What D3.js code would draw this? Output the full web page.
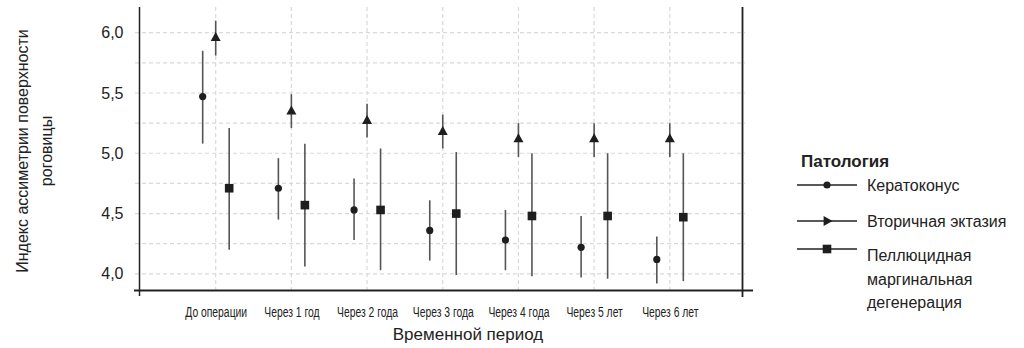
<!DOCTYPE html>
<html>
<head>
<meta charset="utf-8">
<script src="https://cdn.jsdelivr.net/npm/d3@7"></script>
<style>
  html, body { margin: 0; padding: 0; background: #fff; }
  svg { display: block; font-family: "Liberation Sans", Arial, sans-serif; }
</style>
</head>
<body>
<svg id="chart" width="1024" height="348"></svg>
<script>
// Time periods (x categories)
const periods = ["До операции", "Через 1 год", "Через 2 года", "Через 3 года", "Через 4 года", "Через 5 лет", "Через 6 лет"];

// Keratoconus: mean, lower, upper
const keratoMean  = [5.47, 4.71, 4.53, 4.36, 4.28, 4.22, 4.12];
const keratoLow   = [5.08, 4.45, 4.28, 4.11, 4.03, 3.97, 3.92];
const keratoHigh  = [5.85, 4.96, 4.79, 4.61, 4.53, 4.48, 4.31];

// Secondary ectasia
const ectasiaMean = [5.96, 5.35, 5.27, 5.18, 5.12, 5.12, 5.12];
const ectasiaLow  = [5.81, 5.21, 5.13, 5.04, 4.97, 4.97, 4.97];
const ectasiaHigh = [6.10, 5.49, 5.41, 5.32, 5.25, 5.25, 5.25];

// Pellucid marginal degeneration
const pmdMean     = [4.71, 4.57, 4.53, 4.50, 4.48, 4.48, 4.47];
const pmdLow      = [4.20, 4.06, 4.03, 3.99, 3.98, 3.96, 3.94];
const pmdHigh     = [5.21, 5.08, 5.04, 5.01, 5.00, 5.00, 5.00];

const yTickValues = [4.0, 4.5, 5.0, 5.5, 6.0];
const yGridValues = [4.0, 4.25, 4.5, 4.75, 5.0, 5.25, 5.5, 5.75, 6.0];

const series = [
  { name: "Кератоконус", shape: "circle", offset: -13, mean: keratoMean, low: keratoLow, high: keratoHigh },
  { name: "Вторичная эктазия", shape: "triangle", offset: 0, mean: ectasiaMean, low: ectasiaLow, high: ectasiaHigh },
  { name: "Пеллюцидная маргинальная дегенерация", shape: "square", offset: 13.5, mean: pmdMean, low: pmdLow, high: pmdHigh }
];

const svg = d3.select("#chart");

const plot = { left: 139.5, right: 742.5, top: 7, bottom: 290.5 };

const x = d3.scalePoint().domain(periods).range([140, 745.5]).padding(1);
const y = d3.scaleLinear().domain([3.862, 6.213]).range([plot.bottom, plot.top]);

const gridColor = "#d9d9d9";

// Horizontal dashed grid
svg.append("g").selectAll("line").data(yGridValues).join("line")
  .attr("x1", 135).attr("x2", 745)
  .attr("y1", d => y(d)).attr("y2", d => y(d))
  .attr("stroke", gridColor).attr("stroke-width", 1.2).attr("stroke-dasharray", "4,3");

// Vertical dashed grid
svg.append("g").selectAll("line").data(periods).join("line")
  .attr("x1", d => x(d)).attr("x2", d => x(d))
  .attr("y1", plot.top).attr("y2", plot.bottom)
  .attr("stroke", gridColor).attr("stroke-width", 1.2).attr("stroke-dasharray", "4,3");

// Y axis tick labels
const yAxis = svg.append("g").attr("transform", `translate(${plot.left},0)`)
  .call(d3.axisLeft(y).tickValues(yTickValues).tickSize(0).tickPadding(16)
    .tickFormat(d => d3.format(".1f")(d).replace(".", ",")));
yAxis.select(".domain").remove();
yAxis.selectAll("text").attr("font-size", 16).attr("fill", "#222")
  .attr("font-family", "'Liberation Sans', Arial, sans-serif");

// X axis tick labels (condensed)
const xAxis = svg.append("g").attr("transform", `translate(0,${plot.bottom})`)
  .call(d3.axisBottom(x).tickSize(0).tickPadding(16));
xAxis.select(".domain").remove();
xAxis.selectAll("text").attr("font-size", 15).attr("fill", "#222")
  .attr("font-family", "'Liberation Sans', Arial, sans-serif")
  .attr("transform", "scale(0.69,1)");

// Frame lines
svg.append("line").attr("x1", plot.left).attr("x2", plot.left).attr("y1", plot.top).attr("y2", 296)
  .attr("stroke", "#222").attr("stroke-width", 1.5);
svg.append("line").attr("x1", 134).attr("x2", 753).attr("y1", plot.bottom).attr("y2", plot.bottom)
  .attr("stroke", "#222").attr("stroke-width", 1.8);
svg.append("line").attr("x1", plot.right).attr("x2", plot.right).attr("y1", plot.top).attr("y2", 297)
  .attr("stroke", "#222").attr("stroke-width", 1.8);

const markColor = "#1e1e1e";
const barColor = "#555";

function drawShape(sel, shape, rotate) {
  if (shape === "circle") {
    sel.append("circle").attr("r", 3.6).attr("fill", markColor);
  } else if (shape === "square") {
    sel.append("rect").attr("x", -4.3).attr("y", -4.3).attr("width", 8.6).attr("height", 8.6).attr("fill", markColor);
  } else {
    sel.append("path").attr("d", "M0,-5.6L5,3.4L-5,3.4Z").attr("fill", markColor)
      .attr("transform", rotate ? "rotate(90)" : null);
  }
}

// Error bars and point markers
series.forEach(s => {
  const g = svg.append("g");
  const idx = d3.range(periods.length);
  g.selectAll("line").data(idx).join("line")
    .attr("x1", i => x(periods[i]) + s.offset).attr("x2", i => x(periods[i]) + s.offset)
    .attr("y1", i => y(s.low[i])).attr("y2", i => y(s.high[i]))
    .attr("stroke", barColor).attr("stroke-width", 1.6);
  g.selectAll("g.pt").data(idx).join("g").attr("class", "pt")
    .attr("transform", i => `translate(${x(periods[i]) + s.offset},${y(s.mean[i])})`)
    .each(function () { drawShape(d3.select(this), s.shape, false); });
});

// Axis titles
svg.append("text").attr("x", 468).attr("y", 340).attr("text-anchor", "middle")
  .attr("font-size", 17).attr("fill", "#222").text("Временной период");

const yTitle = svg.append("text").attr("transform", "translate(0,151) rotate(-90)")
  .attr("text-anchor", "middle").attr("font-size", 16).attr("fill", "#222");
yTitle.append("tspan").attr("x", 0).attr("y", 28).text("Индекс ассиметрии поверхности");
yTitle.append("tspan").attr("x", 0).attr("y", 52).text("роговицы");

// Legend
const legend = svg.append("g");
legend.append("text").attr("x", 801).attr("y", 167).attr("font-size", 17).attr("font-weight", "bold")
  .attr("fill", "#222").text("Патология");

const legendRows = [
  { s: series[0], keyY: 185, lines: ["Кератоконус"], textY: 191 },
  { s: series[1], keyY: 221, lines: ["Вторичная эктазия"], textY: 227 },
  { s: series[2], keyY: 249, lines: ["Пеллюцидная", "маргинальная", "дегенерация"], textY: 261 }
];
legendRows.forEach(r => {
  legend.append("line").attr("x1", 797).attr("x2", 857).attr("y1", r.keyY).attr("y2", r.keyY)
    .attr("stroke", "#222").attr("stroke-width", 1.4);
  const k = legend.append("g").attr("transform", `translate(827,${r.keyY})`);
  drawShape(k, r.s.shape, true);
  const t = legend.append("text").attr("font-size", 16).attr("fill", "#222");
  r.lines.forEach((ln, j) => {
    t.append("tspan").attr("x", 867).attr("y", r.textY + j * 23.5).text(ln);
  });
});
</script>
</body>
</html>
